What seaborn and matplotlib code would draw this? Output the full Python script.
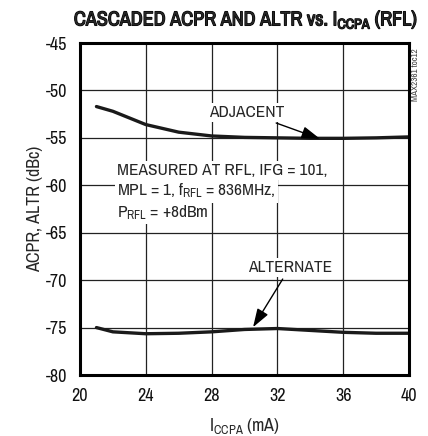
import matplotlib
matplotlib.use("Agg")
import matplotlib.pyplot as plt
import matplotlib.patheffects as pe
import seaborn as sns
import pandas as pd

# curves
iccpa = [21, 22, 24, 26, 28, 30, 32, 34, 36, 38, 40]
adjacent = [-51.7, -52.2, -53.6, -54.4, -54.8, -54.95, -55.0, -55.05, -55.05, -55.0, -54.9]
alternate = [-75.0, -75.45, -75.65, -75.6, -75.45, -75.2, -75.1, -75.3, -75.5, -75.6, -75.6]

xticks = [20, 24, 28, 32, 36, 40]
yticks = [-45, -50, -55, -60, -65, -70, -75, -80]

df = pd.DataFrame({"iccpa": iccpa * 2,
                   "acpr": adjacent + alternate,
                   "curve": ["ADJACENT"] * len(iccpa) + ["ALTERNATE"] * len(iccpa)})

sns.set_style("white")
plt.rcParams['font.family'] = ['Archivo Narrow', 'DejaVu Sans']
plt.rcParams['mathtext.fontset'] = 'custom'
plt.rcParams['mathtext.rm'] = 'Archivo Narrow'
plt.rcParams['axes.unicode_minus'] = False

fig = plt.figure(figsize=(4.28, 4.36), dpi=100)
ax = fig.add_axes([80/428, 1-375/436, 329/428, 332/436])

sns.lineplot(data=df, x="iccpa", y="acpr", units="curve", estimator=None,
             color="#1a1a1a", lw=2.4, ax=ax)

ax.set_xlim(20, 40)
ax.set_ylim(-80, -45)
ax.set_xticks(xticks)
ax.set_yticks(yticks)
ax.grid(True, color="#222222", lw=0.9)
for s in ax.spines.values():
    s.set_linewidth(2.2)
    s.set_color("black")
ax.tick_params(length=0, labelsize=13, pad=9, colors="#111111")
ax.set_xlabel(r"$\mathregular{I_{CCPA}}$ (mA)", fontsize=13, labelpad=9)
ax.set_ylabel("ACPR, ALTR (dBc)", fontsize=13, labelpad=2)

# no bold narrow face installed: thicken the regular one with a stroke
fig.text(246/428, 1-20/436, r"CASCADED ACPR AND ALTR vs. $\mathregular{I_{CCPA}}$ (RFL)",
         ha="center", va="center", fontsize=14.5,
         path_effects=[pe.withStroke(linewidth=0.9, foreground="black")])

box = dict(facecolor="white", edgecolor="none", pad=1.5)
fs = 12.5
ax.annotate("ADJACENT", xy=(34.59, -55.1), xytext=(30.15, -52.8),
            ha="center", va="baseline", fontsize=fs, bbox=box,
            arrowprops=dict(arrowstyle="-|>,head_length=0.9,head_width=0.3",
                            color="black", lw=1.0, shrinkA=2, shrinkB=0))
ax.annotate("ALTERNATE", xy=(30.52, -74.96), xytext=(32.77, -69.1),
            ha="center", va="baseline", fontsize=fs, bbox=box,
            arrowprops=dict(arrowstyle="-|>,head_length=0.9,head_width=0.3",
                            color="black", lw=1.0, shrinkA=2, shrinkB=0))
ax.text(22.25, -58.9, "MEASURED AT RFL, IFG = 101,", fontsize=fs, va="baseline", bbox=box)
ax.text(22.25, -61.1, r"MPL = 1, $\mathregular{f_{RFL}}$ = 836MHz,", fontsize=fs, va="baseline", bbox=box)
ax.text(22.25, -63.35, r"$\mathregular{P_{RFL}}$ = +8dBm", fontsize=fs, va="baseline", bbox=box)

fig.text(416/428, 1-75/436, "MAX2361 toc12", rotation=90, ha="center", va="center",
         fontsize=6.5, color="#444444")

fig.savefig("out.png", dpi=100)
